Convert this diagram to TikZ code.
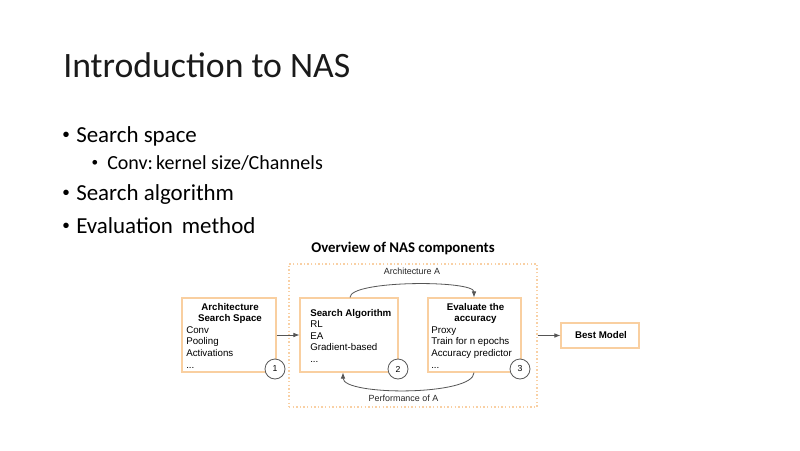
\documentclass[tikz,border=0pt]{standalone}
\usepackage{fontspec}
\setmainfont{Carlito}
\newfontfamily\arialf{Liberation Sans}
\usetikzlibrary{arrows.meta}
\definecolor{boxor}{HTML}{F9CFA0}
\definecolor{dotor}{HTML}{F9D0A4}
\definecolor{linegr}{HTML}{555555}
\definecolor{ttl}{HTML}{1A1A1A}
\begin{document}
\begin{tikzpicture}[x=0.75pt,y=-0.75pt,
  titletxt/.style={anchor=base west,inner sep=0pt,text=ttl,font=\fontsize{26.8}{32}\selectfont},
  bul/.style={anchor=base west,inner sep=0pt,text=black,font=\fontsize{17.2}{20}\selectfont},
  subbul/.style={anchor=base west,inner sep=0pt,text=black,font=\fontsize{15}{18}\selectfont},
  bulmark/.style={anchor=base,inner sep=0pt,text=black,font=\arialf\fontsize{15}{18}\selectfont},
  subbulmark/.style={anchor=base,inner sep=0pt,text=black,font=\arialf\fontsize{13}{16}\selectfont},
  compbox/.style={draw=boxor,line width=0.9pt,fill=white,inner sep=0pt},
  hdr/.style={anchor=base,inner sep=0pt,font=\arialf\bfseries\fontsize{7.3}{9}\selectfont},
  hdrl/.style={anchor=base west,inner sep=0pt,font=\arialf\bfseries\fontsize{7.3}{9}\selectfont},
  item/.style={anchor=base west,inner sep=0pt,font=\arialf\fontsize{7.3}{9}\selectfont},
  lbl/.style={anchor=base,inner sep=0pt,text=black!85,font=\arialf\fontsize{6.7}{8}\selectfont},
  numc/.style={circle,draw=black!65,line width=0.6pt,fill=white,minimum size=15pt,inner sep=0pt,font=\arialf\fontsize{6.5}{8}\selectfont},
  conn/.style={draw=linegr,line width=0.6pt,-{Latex[length=4.5pt,width=3.5pt]}}
]
\useasboundingbox[fill=white] (0,0) rectangle (800,450);

% title and bullets
\node[titletxt] (title) at (63,77) {Introduction to NAS};
\node[bulmark] (b1m) at (66,141) {•};
\node[bul] (b1) at (76,142) {Search space};
\node[subbulmark] (b2m) at (95,168) {•};
\node[subbul] (b2) at (107,169) {Conv:\kern-1pt\ kernel size/Channels};
\node[bulmark] (b3m) at (66,199) {•};
\node[bul] (b3) at (76,200) {Search algorithm};
\node[bulmark] (b4m) at (66,232) {•};
\node[bul] (b4) at (76,233) {Evaluation\, method};

% diagram caption
\node[anchor=base,inner sep=0pt,font=\bfseries\fontsize{11.1}{13}\selectfont] (cap) at (403,252.3) {Overview of NAS components};

% dotted container
\node[draw=dotor,line width=1.1pt,dash pattern=on 1.1pt off 1.6pt,minimum width=248*0.75pt,minimum height=143*0.75pt,inner sep=0pt] (cont) at (413,335.5) {};

% boxes
\node[compbox,minimum width=94*0.75pt,minimum height=74*0.75pt] (box1) at (229,335) {};
\node[compbox,minimum width=98*0.75pt,minimum height=74*0.75pt] (box2) at (349,335) {};
\node[compbox,minimum width=93*0.75pt,minimum height=74*0.75pt] (box3) at (474.5,335) {};
\node[compbox,minimum width=78*0.75pt,minimum height=25*0.75pt] (best) at (600,335.5) {};

% box 1 text
\node[hdr] (t1a) at (230,310) {Architecture};
\node[hdr] (t1b) at (230,321.5) {Search Space};
\node[item] (t1c) at (186,333) {Conv};
\node[item] (t1d) at (186,344.8) {Pooling};
\node[item] (t1e) at (186,356.6) {Activations};
\node[item] (t1f) at (186,368.3) {...};

% box 2 text
\node[hdrl] (t2a) at (310,316) {Search Algorithm};
\node[item] (t2b) at (310,327.5) {RL};
\node[item] (t2c) at (310,339) {EA};
\node[item] (t2d) at (310,350.5) {Gradient-based};
\node[item] (t2e) at (310,362.5) {...};

% box 3 text
\node[hdr] (t3a) at (475.5,310) {Evaluate the};
\node[hdr] (t3b) at (475.5,321.5) {accuracy};
\node[item] (t3c) at (431,333) {Proxy};
\node[item] (t3d) at (431,344.8) {Train for n epochs};
\node[item] (t3e) at (431,356.6) {Accuracy predictor};
\node[item] (t3f) at (431,368.3) {...};

% best model text
\node[hdr] (t4) at (601,338.7) {Best Model};

% number circles
\node[numc] (n1) at (275,369) {1};
\node[numc] (n2) at (398,369) {2};
\node[numc] (n3) at (520,369) {3};

% connectors
\draw[conn] (box1.east) -- (box2.west);
\draw[conn] (cont.east |- best.west) -- (best.west);
\coordinate (a1) at (box2.north -| 350,0);
\coordinate (a2) at (box3.north -| 474,0);
\draw[conn] (a1) .. controls (350,280) and (474,280) .. (a2);
\coordinate (p1) at (box3.south -| 474,0);
\coordinate (p2) at (box2.south -| 343,0);
\draw[conn] (p1) .. controls (474,396) and (343,396) .. (p2);
\node[lbl] (la) at (412,274.7) {Architecture A};
\node[lbl] (lp) at (403.5,401.7) {Performance of A};
\end{tikzpicture}
\end{document}
